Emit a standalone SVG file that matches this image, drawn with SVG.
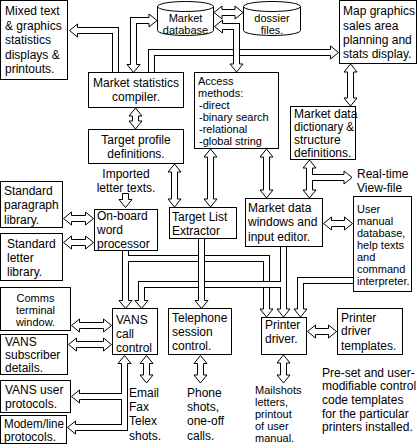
<svg xmlns="http://www.w3.org/2000/svg" width="420" height="444" viewBox="0 0 420 444">
<style>
.bx{fill:#fff;stroke:#000;stroke-width:1}
.so{fill:none;stroke:#000;stroke-width:7;stroke-linejoin:miter;stroke-linecap:butt}
.si{fill:none;stroke:#fff;stroke-width:5;stroke-linejoin:miter;stroke-linecap:butt}
text{font-family:"Liberation Sans",Arial,sans-serif;font-size:12px;fill:#000}
.s text,text.s{font-size:11px}
.c{text-anchor:middle}
</style>
<defs>
<path id="ah" d="M-3,-9 V-8 H-6.5 L0,0 L6.5,-8 H3 V-9" fill="#fff" stroke="#000" stroke-width="1"/>
</defs>
<rect width="420" height="444" fill="#fff"/>
<g id="connectors">
<path class="so" d="M115.5,72.5 V30.5 H77.5"/><path class="si" d="M115.5,72.5 V30.5 H77.5"/>
<use href="#ah" transform="translate(69.5,30.5) rotate(90)"/>
<path class="so" d="M133.5,64.5 V20.5 H149"/><path class="si" d="M133.5,64.5 V20.5 H149"/>
<use href="#ah" transform="translate(133.5,72.5)"/>
<use href="#ah" transform="translate(157,20.5) rotate(-90)"/>
<path class="so" d="M222,12.5 H235"/><path class="si" d="M222,12.5 H235"/>
<use href="#ah" transform="translate(214,12.5) rotate(90)"/>
<use href="#ah" transform="translate(243,12.5) rotate(-90)"/>
<path class="so" d="M151.5,72.5 V52.5 H330.5"/><path class="si" d="M151.5,72.5 V52.5 H330.5"/>
<use href="#ah" transform="translate(338.5,52.5) rotate(-90)"/>
<path class="so" d="M222.5,26.5 H236.5 V64"/><path class="si" d="M222.5,26.5 H236.5 V64"/>
<use href="#ah" transform="translate(214.5,26.5) rotate(90)"/>
<use href="#ah" transform="translate(236.5,72)"/>
<path class="so" d="M350.5,72 V98"/><path class="si" d="M350.5,72 V98"/>
<use href="#ah" transform="translate(350.5,64) rotate(180)"/>
<use href="#ah" transform="translate(350.5,106)"/>
<path class="so" d="M135.5,116 V121"/><path class="si" d="M135.5,116 V121"/>
<use href="#ah" transform="translate(135.5,108) rotate(180)"/>
<use href="#ah" transform="translate(135.5,129)"/>
<path class="so" d="M174.5,172 V199"/><path class="si" d="M174.5,172 V199"/>
<use href="#ah" transform="translate(174.5,164) rotate(180)"/>
<use href="#ah" transform="translate(174.5,207)"/>
<path class="so" d="M210.5,157 V199"/><path class="si" d="M210.5,157 V199"/>
<use href="#ah" transform="translate(210.5,149) rotate(180)"/>
<use href="#ah" transform="translate(210.5,207)"/>
<path class="so" d="M266.5,157 V190"/><path class="si" d="M266.5,157 V190"/>
<use href="#ah" transform="translate(266.5,149) rotate(180)"/>
<use href="#ah" transform="translate(266.5,198)"/>
<path class="so" d="M309.5,168 V190 M309.5,177.5 H344"/><path class="si" d="M309.5,168 V190 M309.5,177.5 H344"/>
<use href="#ah" transform="translate(309.5,160) rotate(180)"/>
<use href="#ah" transform="translate(309.5,198)"/>
<use href="#ah" transform="translate(352,177.5) rotate(-90)"/>
<path d="M122.5,193.5 H128.5 V199.5 H132 L125.5,207.5 L119,199.5 H122.5 Z" fill="#fff" stroke="#000"/>
<path class="so" d="M71.5,218.5 H85.5"/><path class="si" d="M71.5,218.5 H85.5"/>
<use href="#ah" transform="translate(63.5,218.5) rotate(90)"/>
<use href="#ah" transform="translate(93.5,218.5) rotate(-90)"/>
<path class="so" d="M71.5,242.5 H85.5"/><path class="si" d="M71.5,242.5 H85.5"/>
<use href="#ah" transform="translate(63.5,242.5) rotate(90)"/>
<use href="#ah" transform="translate(93.5,242.5) rotate(-90)"/>
<path class="so" d="M79.5,325.5 H103.5"/><path class="si" d="M79.5,325.5 H103.5"/>
<use href="#ah" transform="translate(71.5,325.5) rotate(90)"/>
<use href="#ah" transform="translate(111.5,325.5) rotate(-90)"/>
<path class="so" d="M76.5,344.5 H103.5"/><path class="si" d="M76.5,344.5 H103.5"/>
<use href="#ah" transform="translate(68.5,344.5) rotate(90)"/>
<use href="#ah" transform="translate(111.5,344.5) rotate(-90)"/>
<path class="so" d="M124.5,363.5 V427.5 H75.5 M124.5,396.5 H79.5"/><path class="si" d="M124.5,363.5 V427.5 H75.5 M124.5,396.5 H79.5"/>
<use href="#ah" transform="translate(124.5,355.5) rotate(180)"/>
<use href="#ah" transform="translate(71.5,396.5) rotate(90)"/>
<use href="#ah" transform="translate(67.5,427.5) rotate(90)"/>
<path class="so" d="M146.5,363.5 V375 M200.5,363.5 V375 M283.5,363 V375"/><path class="si" d="M146.5,363.5 V375 M200.5,363.5 V375 M283.5,363 V375"/>
<use href="#ah" transform="translate(146.5,355.5) rotate(180)"/>
<use href="#ah" transform="translate(146.5,383)"/>
<use href="#ah" transform="translate(200.5,355.5) rotate(180)"/>
<use href="#ah" transform="translate(200.5,383)"/>
<use href="#ah" transform="translate(283.5,355) rotate(180)"/>
<use href="#ah" transform="translate(283.5,383)"/>
<path class="so" d="M315.5,331.5 H328.5"/><path class="si" d="M315.5,331.5 H328.5"/>
<use href="#ah" transform="translate(307.5,331.5) rotate(90)"/>
<use href="#ah" transform="translate(336.5,331.5) rotate(-90)"/>
<path class="so" d="M331.5,223.5 H344.5"/><path class="si" d="M331.5,223.5 H344.5"/>
<use href="#ah" transform="translate(323.5,223.5) rotate(90)"/>
<use href="#ah" transform="translate(352.5,223.5) rotate(-90)"/>
<path class="so" d="M125.5,250.5 V300.5 M125.5,258.5 H266.5 V309"/><path class="si" d="M125.5,250.5 V300.5 M125.5,258.5 H266.5 V309"/>
<use href="#ah" transform="translate(125.5,308.5)"/>
<use href="#ah" transform="translate(266.5,317)"/>
<path class="so" d="M283.5,246.5 V309 M283.5,284.5 H141.5 V300.5"/><path class="si" d="M283.5,246.5 V309 M283.5,284.5 H141.5 V300.5"/>
<use href="#ah" transform="translate(283.5,317)"/>
<use href="#ah" transform="translate(141.5,308.5)"/>
<path class="so" d="M353.5,280.5 H300.5 V309"/><path class="si" d="M353.5,280.5 H300.5 V309"/>
<use href="#ah" transform="translate(300.5,317)"/>
<path class="so" d="M201.5,238.5 V300.5"/><path class="si" d="M201.5,238.5 V300.5"/>
<use href="#ah" transform="translate(201.5,308.5)"/>
</g>
<g id="mixed"><rect class="bx" x="0.5" y="0.5" width="67" height="79"/>
<text x="5" y="15">Mixed text</text><text x="5" y="29.5">&amp; graphics</text><text x="5" y="44">statistics</text><text x="5" y="58.5">displays &amp;</text><text x="5" y="73">printouts.</text></g>
<g id="database" class="s"><path class="bx" d="M157.5,6.5 V30.5 A28,5 0 0 0 213.5,30.5 V6.5 A28,5 0 0 0 157.5,6.5 Z"/><path d="M157.5,6.5 A28,5 0 0 0 213.5,6.5" fill="none" stroke="#000"/>
<text class="c" x="185.5" y="22">Market</text><text class="c" x="185.5" y="34">database</text></g>
<g id="dossier" class="s"><path class="bx" d="M243.5,6.5 V30.5 A28.5,5 0 0 0 300.5,30.5 V6.5 A28.5,5 0 0 0 243.5,6.5 Z"/><path d="M243.5,6.5 A28.5,5 0 0 0 300.5,6.5" fill="none" stroke="#000"/>
<text class="c" x="272" y="22">dossier</text><text class="c" x="272" y="34">files.</text></g>
<g id="map"><rect class="bx" x="339.5" y="0.5" width="77" height="63"/>
<text x="343" y="15">Map graphics</text><text x="343" y="29.5">sales area</text><text x="343" y="44">planning and</text><text x="343" y="58">stats display.</text></g>
<g id="compiler"><rect class="bx" x="88.5" y="72.5" width="95" height="35"/>
<text class="c" x="136" y="87">Market statistics</text><text class="c" x="136" y="101">compiler.</text></g>
<g id="access" class="s"><rect class="bx" x="194.5" y="72.5" width="84" height="76"/>
<text x="198" y="85">Access</text><text x="198" y="97">methods:</text><text x="199" y="109">-direct</text><text x="199" y="121">-binary search</text><text x="199" y="133">-relational</text><text x="199" y="145">-global string</text></g>
<g id="dictionary"><rect class="bx" x="290.5" y="106.5" width="65" height="53"/>
<text x="294" y="118">Market data</text><text x="294" y="131" textLength="60" lengthAdjust="spacingAndGlyphs">dictionary &amp;</text><text x="294" y="144">structure</text><text x="294" y="157">definitions.</text></g>
<g id="targetprofile"><rect class="bx" x="88.5" y="129.5" width="95" height="34"/>
<text class="c" x="136" y="143.5">Target profile</text><text class="c" x="136" y="157.5">definitions.</text></g>
<g id="imported"><text class="c" x="126" y="177.5">Imported</text><text class="c" x="126" y="191.5">letter texts.</text></g>
<g id="paragraph"><rect class="bx" x="0.5" y="181.5" width="62" height="46"/>
<text x="4" y="194.5">Standard</text><text x="4" y="209">paragraph</text><text x="4" y="223.5">library.</text></g>
<g id="wordproc"><rect class="bx" x="94.5" y="209.5" width="63" height="41"/>
<text x="97" y="219.5">On-board</text><text x="97" y="233.5">word</text><text x="97" y="247.5">processor</text></g>
<g id="targetlist"><rect class="bx" x="169.5" y="207.5" width="67" height="31"/>
<text x="172" y="220.5">Target List</text><text x="172" y="234.5">Extractor</text></g>
<g id="windows"><rect class="bx" x="245.5" y="198.5" width="77" height="48"/>
<text x="248" y="211.5">Market data</text><text x="248" y="226">windows and</text><text x="248" y="240.5">input editor.</text></g>
<g id="manual" class="s"><rect class="bx" x="353.5" y="196.5" width="58" height="95"/>
<text x="357" y="212.5">User</text><text x="357" y="224.5">manual</text><text x="357" y="236.5">database,</text><text x="357" y="248.5">help texts</text><text x="357" y="260.5">and</text><text x="357" y="272.5">command</text><text x="357" y="284.5">interpreter.</text></g>
<g id="realtime"><text x="357" y="177.5">Real-time</text><text x="357" y="191.5">View-file</text></g>
<g id="letter"><rect class="bx" x="0.5" y="233.5" width="62" height="47"/>
<text x="7" y="247.5">Standard</text><text x="7" y="261.5">letter</text><text x="7" y="276">library.</text></g>
<g id="comms" class="s"><rect class="bx" x="0.5" y="287.5" width="70" height="43"/>
<text class="c" x="35.5" y="301.5">Comms</text><text class="c" x="35.5" y="313.5">terminal</text><text class="c" x="35.5" y="325.5">window.</text></g>
<g id="vans"><rect class="bx" x="112.5" y="308.5" width="45" height="46"/>
<text x="116" y="324">VANS</text><text x="116" y="338">call</text><text x="116" y="352">control</text></g>
<g id="telephone"><rect class="bx" x="168.5" y="308.5" width="63" height="46"/>
<text x="172" y="321.5">Telephone</text><text x="172" y="335.5">session</text><text x="172" y="350">control.</text></g>
<g id="printer"><rect class="bx" x="261.5" y="317.5" width="45" height="37"/>
<text x="265" y="329">Printer</text><text x="265" y="343">driver.</text></g>
<g id="templates"><rect class="bx" x="337.5" y="308.5" width="65" height="46"/>
<text x="341" y="321.5">Printer</text><text x="341" y="335">driver</text><text x="341" y="350">templates.</text></g>
<g id="subscriber"><rect class="bx" x="0.5" y="334.5" width="67" height="40"/>
<text x="5" y="346">VANS</text><text x="5" y="359">subscriber</text><text x="5" y="372">details.</text></g>
<g id="userprot"><rect class="bx" x="0.5" y="380.5" width="70" height="32"/>
<text x="5" y="393.5">VANS user</text><text x="5" y="407.5">protocols.</text></g>
<g id="modem"><rect class="bx" x="0.5" y="415.5" width="66" height="28"/>
<text x="4" y="427.5" textLength="60" lengthAdjust="spacingAndGlyphs">Modem/line</text><text x="4" y="441">protocols.</text></g>
<g id="email"><text x="129" y="396.5">Email</text><text x="129" y="411">Fax</text><text x="129" y="425">Telex</text><text x="129" y="439.5">shots.</text></g>
<g id="phone"><text x="187" y="396.5">Phone</text><text x="187" y="411">shots,</text><text x="187" y="425">one-off</text><text x="187" y="439.5">calls.</text></g>
<g id="mailshots" class="s"><text x="255" y="394">Mailshots</text><text x="255" y="406">letters,</text><text x="255" y="418">printout</text><text x="255" y="430">of user</text><text x="255" y="441.5">manual.</text></g>
<g id="preset"><text x="322" y="376.5">Pre-set and user-</text><text x="322" y="390">modifiable control</text><text x="322" y="404">code templates</text><text x="322" y="417.5">for the particular</text><text x="322" y="431">printers installed.</text></g>
</svg>
